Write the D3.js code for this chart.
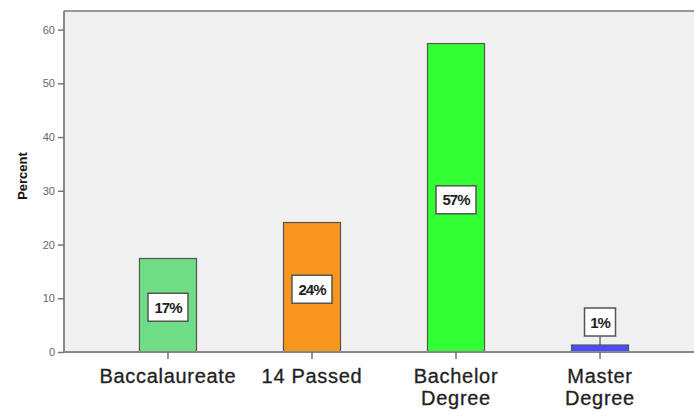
<!DOCTYPE html>
<html><head><meta charset="utf-8">
<script src="https://cdn.jsdelivr.net/npm/d3@7"></script>
<style>body{margin:0;background:#fff}svg{display:block}</style>
</head><body>
<svg id="c" width="694" height="411"></svg>
<script>
const categories = ["Baccalaureate", "14 Passed", "Bachelor Degree", "Master Degree"];
const catLines = [["Baccalaureate"], ["14 Passed"], ["Bachelor", "Degree"], ["Master", "Degree"]];
const values = [17.4, 24.1, 57.4, 1.3];
const labels = ["17%", "24%", "57%", "1%"];
const colors = ["#6FDD85", "#F7961E", "#33FF33", "#4B4BFF"];
const yTicks = [0, 10, 20, 30, 40, 50, 60];

(function () {
const svg = d3.select("#c");
const pLeft = 64, pTop = 11, pBottom = 352, pRight = 704;
const x = d3.scaleBand().domain(categories).range([pLeft, pRight]).paddingInner(0.604).paddingOuter(0.524);
const y = d3.scaleLinear().domain([0, 60]).range([pBottom, 29.6]);
const font = "Liberation Sans, Arial, sans-serif";

svg.append("rect").attr("x", pLeft).attr("y", pTop).attr("width", 694 - pLeft).attr("height", pBottom - pTop).attr("fill", "#F0F0F0");
svg.append("line").attr("x1", pLeft).attr("x2", 694).attr("y1", pTop).attr("y2", pTop).attr("stroke", "#999").attr("stroke-width", 2);

// bars
svg.selectAll("rect.bar").data(values).join("rect").attr("class", "bar")
  .attr("x", (d, i) => x(categories[i]))
  .attr("width", x.bandwidth())
  .attr("y", d => y(d))
  .attr("height", d => pBottom - y(d))
  .attr("fill", (d, i) => colors[i])
  .attr("stroke", "#555").attr("stroke-width", 1.2);

// y axis
const ya = svg.append("g").attr("transform", `translate(${pLeft},0)`)
  .call(d3.axisLeft(y).tickValues(yTicks).tickSize(6).tickPadding(3));
ya.select(".domain").attr("stroke", "#888").attr("stroke-width", 2).attr("d", `M0,${pBottom}V${pTop}`);
ya.selectAll(".tick line").attr("stroke", "#777").attr("stroke-width", 1.5);
ya.selectAll(".tick text").attr("font-family", font).attr("font-size", 11).attr("fill", "#666");

// x axis
const xa = svg.append("g").attr("transform", `translate(0,${pBottom})`)
  .call(d3.axisBottom(x).tickSize(7).tickFormat(""));
xa.select(".domain").attr("stroke", "#888").attr("stroke-width", 2).attr("d", `M${pLeft},0H694`);
xa.selectAll(".tick line").attr("stroke", "#555").attr("stroke-width", 1.2);

// x labels
categories.forEach((c, i) => {
  const cx = x(c) + x.bandwidth() / 2;
  const t = svg.append("text").attr("x", cx).attr("y", 383)
    .attr("text-anchor", "middle").attr("font-family", font)
    .attr("font-size", 20).attr("letter-spacing", 0.7).attr("fill", "#222")
    .attr("stroke", "#222").attr("stroke-width", 0.3);
  catLines[i].forEach((l, j) => t.append("tspan").attr("x", cx).attr("dy", j ? 22 : 0).text(l));
});

// y title
svg.append("text").attr("transform", "translate(27,176) rotate(-90)")
  .attr("text-anchor", "middle").attr("font-family", font)
  .attr("font-size", 13).attr("font-weight", "bold").attr("fill", "#111").text("Percent");

// value labels
values.forEach((v, i) => {
  const cx = x(categories[i]) + x.bandwidth() / 2;
  const small = (pBottom - y(v)) < 30;
  const cy = small ? y(v) - 23 : (y(v) + pBottom) / 2 + 2;
  const w = labels[i].length > 2 ? 40 : 31, h = 28;
  const g = svg.append("g");
  if (small) {
    g.append("line").attr("x1", cx).attr("x2", cx).attr("y1", cy + h / 2).attr("y2", y(v)).attr("stroke", "#555").attr("stroke-width", 1.2);
  }
  g.append("rect").attr("x", cx - w / 2).attr("y", cy - h / 2).attr("width", w).attr("height", h)
    .attr("fill", "#fff").attr("stroke", "#555").attr("stroke-width", 1.5);
  g.append("text").attr("x", cx).attr("y", cy + 5.5).attr("text-anchor", "middle")
    .attr("font-family", font).attr("font-size", 15).attr("font-weight", "bold")
    .attr("letter-spacing", -1).attr("fill", "#222").text(labels[i]);
});
})();
</script>
</body></html>
